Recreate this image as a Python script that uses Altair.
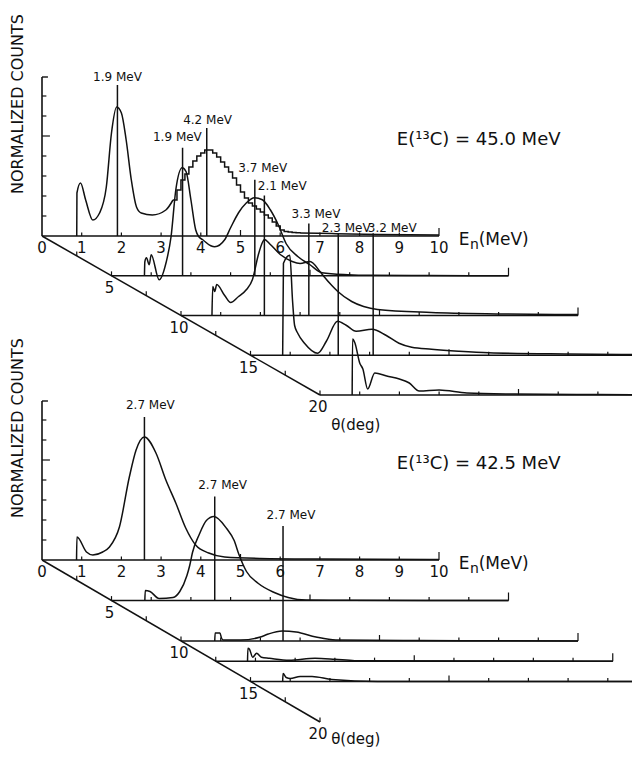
import altair as alt
import pandas as pd

# ------------------------------------------------------------------
# DATA.  E in MeV, counts in axis-tick units
# ------------------------------------------------------------------
# ---- upper panel : E(13C) = 45.0 MeV ----
top_thetas = [0, 5, 10, 15, 20]

top0_E = [0.875, 0.88, 0.97, 1.1, 1.28, 1.45, 1.62, 1.75, 1.88, 2.0, 2.12, 2.25, 2.38, 2.5, 2.78, 3.12, 3.3]
top0_c = [0.0, 2.15, 2.65, 1.8, 0.8, 1.15, 2.45, 5.15, 6.45, 6.15, 4.8, 2.8, 1.45, 1.15, 1.05, 1.3, 1.8]
# histogram (stepped) part of the 0 deg spectrum
top0_hist_E = [3.3, 3.4, 3.5, 3.6, 3.7, 3.8, 3.9, 4.0, 4.1, 4.2, 4.3, 4.4, 4.5, 4.6, 4.7, 4.8, 4.9,
               5.0, 5.1, 5.2, 5.3, 5.4, 5.5, 5.6, 5.7, 5.8, 5.9, 6.0, 6.1, 6.2, 6.3, 6.4, 6.5]
top0_hist_c = [1.8, 2.3, 2.8, 3.1, 3.45, 3.75, 4.0, 4.15, 4.3, 4.3, 4.15, 3.95, 3.7, 3.45, 3.2, 2.9, 2.55,
               2.2, 1.9, 1.65, 1.5, 1.35, 1.2, 1.05, 0.9, 0.7, 0.5, 0.3, 0.22, 0.2, 0.18, 0.16, 0.15]
top0_tail_E = [6.5, 7.3, 8.5, 10.0]
top0_tail_c = [0.15, 0.12, 0.08, 0.05]

top5_E = [0.83, 0.84, 0.88, 0.95, 1.0, 1.2, 1.38, 1.5, 1.62, 1.78, 1.88, 2.0, 2.12, 2.2, 2.3, 2.5, 2.6,
          2.85, 3.0, 3.2, 3.4, 3.6, 3.8, 4.0, 4.2, 4.4, 4.7, 5.0, 5.3, 5.95, 6.5, 8.0, 10.0]
top5_c = [0.0, 0.7, 0.9, 0.55, 1.05, -0.2, 0.7, 1.95, 4.3, 5.4, 5.2, 3.8, 2.3, 1.95, 1.8, 1.5, 1.45,
          1.8, 2.4, 3.15, 3.65, 3.9, 3.8, 3.3, 2.55, 1.6, 0.95, 0.55, 0.15, 0.05, 0.02, 0.01, 0.0]

top10_E = [0.78, 0.8, 0.85, 0.9, 1.1, 1.25, 1.45, 1.65, 1.8, 1.95, 2.05, 2.1, 2.25, 2.5, 2.8, 3.0,
           3.25, 3.5, 3.6, 3.8, 3.95, 4.3, 4.6, 4.95, 6.3, 8.0, 10.0]
top10_c = [0.0, 1.45, 1.2, 1.55, 1.0, 0.65, 0.95, 1.3, 1.8, 3.05, 3.65, 3.8, 3.55, 3.05, 2.7, 2.6,
           2.7, 2.2, 1.95, 1.5, 1.2, 0.7, 0.45, 0.3, 0.15, 0.08, 0.05]

top15_E = [0.81, 0.83, 0.99, 1.06, 1.11, 1.19, 1.36, 1.69, 1.91, 2.19, 2.41, 2.66, 3.06, 3.41, 3.74,
           4.06, 4.56, 5.24, 6.0, 8.0, 10.0]
top15_c = [0.0, 4.6, 5.0, 2.7, 1.5, 1.1, 0.6, 0.1, 0.7, 1.7, 1.5, 1.2, 1.3, 1.0, 0.6,
           0.4, 0.3, 0.2, 0.12, 0.06, 0.03]

top20_E = [0.81, 0.82, 0.88, 1.0, 1.08, 1.2, 1.38, 1.68, 2.0, 2.25, 2.5, 3.0, 3.7, 4.9, 7.0, 10.0]
top20_c = [0.0, 2.8, 2.6, 1.6, 1.3, 0.3, 1.1, 0.95, 0.8, 0.6, 0.2, 0.25, 0.1, 0.05, 0.02, 0.0]

top_peak_text = ["1.9 MeV", "4.2 MeV", "1.9 MeV", "3.7 MeV", "2.1 MeV", "3.3 MeV", "2.3 MeV", "3.2 MeV"]
top_peak_theta = [0, 0, 5, 5, 10, 10, 15, 15]
top_peak_E = [1.9, 4.15, 1.79, 3.61, 2.1, 3.22, 2.21, 3.09]

# ---- lower panel : E(13C) = 42.5 MeV ----
bot_thetas = [0, 5, 10, 12.5, 15]

bot0_E = [0.87, 0.88, 1.12, 1.28, 1.53, 1.7, 1.95, 2.2, 2.37, 2.58, 2.87, 3.12, 3.37, 3.62, 3.87,
          4.2, 4.6, 5.5, 7.0, 10.0]
bot0_c = [0.0, 1.15, 0.4, 0.25, 0.4, 0.65, 1.65, 4.15, 5.5, 6.15, 5.35, 4.0, 2.85, 1.6, 0.75,
          0.35, 0.15, 0.08, 0.05, 0.03]

bot5_E = [0.84, 0.85, 0.97, 1.2, 1.55, 1.72, 1.9, 1.97, 2.04, 2.21, 2.39, 2.58, 2.9, 3.09, 3.21,
          3.4, 3.7, 4.1, 4.45, 4.9, 6.0, 10.0]
bot5_c = [0.0, 0.5, 0.45, 0.1, 0.15, 0.45, 1.25, 1.75, 2.4, 3.3, 4.0, 4.2, 3.6, 3.0, 2.3,
          1.45, 0.85, 0.4, 0.15, 0.02, 0.01, 0.0]

bot10_E = [0.85, 0.86, 0.98, 1.02, 1.06, 1.5, 2.0, 2.2, 2.55, 2.9, 3.4, 3.9, 6.0, 10.0]
bot10_c = [0.0, 0.4, 0.4, 0.15, 0.05, 0.05, 0.2, 0.35, 0.5, 0.45, 0.2, 0.05, 0.02, 0.0]

bot12_E = [0.8, 0.81, 0.85, 0.93, 1.03, 1.15, 1.35, 1.85, 2.5, 3.0, 3.5, 10.0]
bot12_c = [0.0, 0.65, 0.6, 0.2, 0.4, 0.2, 0.15, 0.05, 0.15, 0.1, 0.03, 0.0]

bot15_E = [0.81, 0.82, 0.9, 1.0, 1.25, 1.55, 2.05, 3.2, 10.0]
bot15_c = [0.0, 0.4, 0.2, 0.15, 0.25, 0.25, 0.1, 0.0, 0.0]

bot_peak_text = ["2.7 MeV", "2.7 MeV", "2.7 MeV"]
bot_peak_theta = [0, 5, 10]
bot_peak_E = [2.58, 2.6, 2.57]

E_ticks = [0, 1, 2, 3, 4, 5, 6, 7, 8, 9, 10]
theta_labels = [5, 10, 15, 20]
theta_minor = [2.5, 5, 7.5, 10, 12.5, 15, 17.5, 20]
count_ticks = [1, 2, 3, 4, 5, 6, 7]

# ------------------------------------------------------------------
# GEOMETRY of the oblique (pseudo-3D) projection and annotation layout
# ------------------------------------------------------------------
W, H = 624, 745
PXE = 39.7            # px per MeV
PXC = 20.0            # px per count unit
TH_DX = 13.9          # px per degree, horizontal
TH_DY = {"top": 7.95, "bot": 8.1}
ORIG_Y = {"top": 236, "bot": 560}
OX = 42
YMAX = 7.95           # height of the count axis

# annotation layout (offsets of the peak labels and the angle-axis title)
top_line_top = [7.55, 5.4, 6.4, 4.8, 6.0, 4.6, 6.1, 6.1]
top_txt_dx = [0.0, 0.02, -0.13, 0.2, 0.45, 0.18, 0.2, 0.48]
top_txt_dy = [0.4, 0.4, 0.55, 0.6, 0.5, 0.5, 0.28, 0.28]
bot_line_top = [7.15, 5.2, 5.75]
bot_txt_dx = [0.15, 0.2, 0.2]
bot_txt_dy = [0.6, 0.6, 0.55]
theta_title_dy = {"top": -1.5, "bot": -0.85}


def px(E, theta):
    return OX + E * PXE + theta * TH_DX


def py(panel, c, theta):
    return ORIG_Y[panel] + theta * TH_DY[panel] - c * PXC


# ---------------- curves ----------------
curve_rows, hist_rows = [], []


def add(rows, sid, panel, theta, E, c):
    for i, (e, v) in enumerate(zip(E, c)):
        rows.append({"sid": sid, "i": i, "x": px(e, theta), "y": py(panel, v, theta)})


add(curve_rows, "t0a", "top", 0, top0_E, top0_c)
add(hist_rows, "t0h", "top", 0, top0_hist_E, top0_hist_c)
add(curve_rows, "t0t", "top", 0, top0_tail_E, top0_tail_c)
add(curve_rows, "t5", "top", 5, top5_E, top5_c)
add(curve_rows, "t10", "top", 10, top10_E, top10_c)
add(curve_rows, "t15", "top", 15, top15_E, top15_c)
add(curve_rows, "t20", "top", 20, top20_E, top20_c)
add(curve_rows, "b0", "bot", 0, bot0_E, bot0_c)
add(curve_rows, "b5", "bot", 5, bot5_E, bot5_c)
add(curve_rows, "b10", "bot", 10, bot10_E, bot10_c)
add(curve_rows, "b12", "bot", 12.5, bot12_E, bot12_c)
add(curve_rows, "b15", "bot", 15, bot15_E, bot15_c)

# ---------------- rules (axes, baselines, ticks, peak markers) ----------------
rules = []


def rule(x, y, x2, y2, w=1.4):
    rules.append({"x": x, "y": y, "x2": x2, "y2": y2, "w": w})


texts_c, texts_l, texts_rot = [], [], []

for panel, thetas, ptxt, pth, pE, ptop, tdx, tdy, title in [
        ("top", top_thetas, top_peak_text, top_peak_theta, top_peak_E, top_line_top, top_txt_dx,
         top_txt_dy, "E(¹³C) = 45.0 MeV"),
        ("bot", bot_thetas, bot_peak_text, bot_peak_theta, bot_peak_E, bot_line_top, bot_txt_dx,
         bot_txt_dy, "E(¹³C) = 42.5 MeV")]:
    # vertical count axis
    rule(px(0, 0), py(panel, 0, 0), px(0, 0), py(panel, YMAX, 0), 1.6)
    for c in count_ticks:
        ln = 0.2 if c == 5 else 0.11
        rule(px(0, 0), py(panel, c, 0), px(ln, 0), py(panel, c, 0), 1.2)
    rule(px(0, 0), py(panel, YMAX, 0), px(0.15, 0), py(panel, YMAX, 0), 1.4)
    # oblique angle axis
    rule(px(0, 0), py(panel, 0, 0), px(0, 20), py(panel, 0, 20), 1.5)
    for t in theta_minor:
        rule(px(0, t), py(panel, 0, t), px(0, t), py(panel, 0.22, t), 1.2)
    # baselines of every spectrum with their energy ticks
    for t in thetas:
        rule(px(0, t), py(panel, 0, t), px(10, t), py(panel, 0, t), 1.5)
        for e in E_ticks[1:]:
            hgt = 0.4 if e == 10 else (0.3 if e == 5 else 0.18)
            rule(px(e, t), py(panel, 0, t), px(e, t), py(panel, hgt, t), 1.2)
    # peak markers and their labels
    for s, t, e, top, dx, dy in zip(ptxt, pth, pE, ptop, tdx, tdy):
        rule(px(e, t), py(panel, 0, t), px(e, t), py(panel, top, t), 1.5)
        texts_c.append({"x": px(e + dx, t), "y": py(panel, top + dy, t), "t": s, "fs": 12})
    # energy axis numbers
    for e in E_ticks:
        texts_c.append({"x": px(e, 0), "y": py(panel, -0.62, 0), "t": str(e), "fs": 15})
    # angle axis numbers
    for t in theta_labels:
        texts_c.append({"x": px(-0.05, t), "y": py(panel, -0.62, t), "t": str(t), "fs": 15})
    # axis titles
    texts_l.append({"x": px(10.5, 0), "y": py(panel, -0.2, 0), "t": "E", "fs": 17})
    texts_l.append({"x": px(10.78, 0), "y": py(panel, -0.45, 0), "t": "n", "fs": 14})
    texts_l.append({"x": px(11.0, 0), "y": py(panel, -0.2, 0), "t": "(MeV)", "fs": 17})
    texts_c.append({"x": px(0.9, 20), "y": py(panel, theta_title_dy[panel], 20), "t": "θ(deg)", "fs": 15})
    texts_c.append({"x": px(11.0, 0), "y": py(panel, 4.8, 0), "t": title, "fs": 18})
    texts_rot.append({"x": 18, "y": py(panel, 6.6, 0), "t": "NORMALIZED COUNTS", "fs": 16})

# ------------------------------------------------------------------
X = alt.X("x:Q", scale=alt.Scale(domain=[8, 8 + W], nice=False, zero=False), axis=None)
Y = alt.Y("y:Q", scale=alt.Scale(domain=[8 + H, 8], nice=False, zero=False), axis=None)
INK = "#111111"

rule_layer = alt.Chart(pd.DataFrame(rules)).mark_rule(color=INK).encode(
    x=X, y=Y, x2="x2:Q", y2="y2:Q", strokeWidth=alt.StrokeWidth("w:Q", scale=None))

curve_layer = alt.Chart(pd.DataFrame(curve_rows)).mark_line(
    color=INK, strokeWidth=1.5, interpolate="monotone").encode(
    x=X, y=Y, detail="sid:N", order="i:Q")

hist_layer = alt.Chart(pd.DataFrame(hist_rows)).mark_line(
    color=INK, strokeWidth=1.5, interpolate="step-after").encode(
    x=X, y=Y, detail="sid:N", order="i:Q")

txt_c = alt.Chart(pd.DataFrame(texts_c)).mark_text(
    color=INK, font="DejaVu Sans", align="center", baseline="middle").encode(
    x=X, y=Y, text="t:N", size=alt.Size("fs:Q", scale=None))

txt_l = alt.Chart(pd.DataFrame(texts_l)).mark_text(
    color=INK, font="DejaVu Sans", align="left", baseline="middle").encode(
    x=X, y=Y, text="t:N", size=alt.Size("fs:Q", scale=None))

txt_r = alt.Chart(pd.DataFrame(texts_rot)).mark_text(
    color=INK, font="DejaVu Sans", align="center", baseline="middle", angle=270).encode(
    x=X, y=Y, text="t:N", size=alt.Size("fs:Q", scale=None))

chart = alt.layer(rule_layer, curve_layer, hist_layer, txt_c, txt_l, txt_r).properties(
    width=W, height=H, padding=0, autosize=alt.AutoSizeParams(type="none"),
    background="white",
).configure_view(stroke=None)

chart.save("out.html", embed_options={"renderer": "svg", "actions": False})
